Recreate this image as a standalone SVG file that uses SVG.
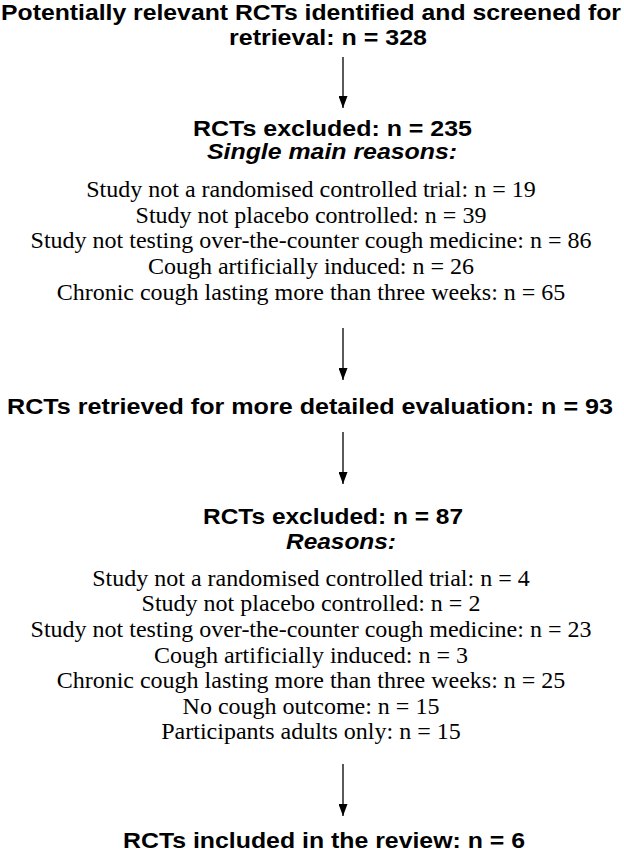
<svg xmlns="http://www.w3.org/2000/svg" width="624" height="852" viewBox="0 0 624 852">
<style>
.h{font-family:"Liberation Sans",Arial,sans-serif;font-weight:bold;font-size:22px;fill:#000;text-anchor:middle}
.i{font-family:"Liberation Sans",Arial,sans-serif;font-weight:bold;font-style:italic;font-size:22px;fill:#000;text-anchor:middle}
.s{font-family:"Liberation Serif","Times New Roman",serif;font-size:24px;fill:#000;text-anchor:middle}
.c{stroke:#000;stroke-width:1.3;fill:none}
</style>
<defs>
<marker id="ah" viewBox="0 0 10 10" refX="10" refY="5" markerWidth="12" markerHeight="9" markerUnits="userSpaceOnUse" orient="auto" preserveAspectRatio="none">
<path d="M0,0 L10,5 L0,10 Z" fill="#000"/>
</marker>
</defs>
<rect width="624" height="852" fill="#fff"/>
<g id="connectors">
<line class="c" x1="343" y1="57" x2="343" y2="108" marker-end="url(#ah)"/>
<line class="c" x1="343" y1="328" x2="343" y2="380" marker-end="url(#ah)"/>
<line class="c" x1="343" y1="432" x2="343" y2="484" marker-end="url(#ah)"/>
<line class="c" x1="343" y1="764" x2="343" y2="816" marker-end="url(#ah)"/>
</g>
<g id="n1">
<text class="h" x="311" y="20" textLength="620" lengthAdjust="spacingAndGlyphs">Potentially relevant RCTs identified and screened for</text>
<text class="h" x="328" y="45" textLength="198" lengthAdjust="spacingAndGlyphs">retrieval: n = 328</text>
</g>
<g id="n2">
<text class="h" x="332.5" y="136" textLength="279" lengthAdjust="spacingAndGlyphs">RCTs excluded: n = 235</text>
<text class="i" x="332" y="159" textLength="250" lengthAdjust="spacingAndGlyphs">Single main reasons:</text>
<text class="s" x="311" y="197">Study not a randomised controlled trial: n = 19</text>
<text class="s" x="311" y="223">Study not placebo controlled: n = 39</text>
<text class="s" x="311" y="248">Study not testing over-the-counter cough medicine: n = 86</text>
<text class="s" x="311" y="274">Cough artificially induced: n = 26</text>
<text class="s" x="311" y="300">Chronic cough lasting more than three weeks: n = 65</text>
</g>
<g id="n3">
<text class="h" x="310" y="414" textLength="606" lengthAdjust="spacingAndGlyphs">RCTs retrieved for more detailed evaluation: n = 93</text>
</g>
<g id="n4">
<text class="h" x="333" y="524" textLength="260" lengthAdjust="spacingAndGlyphs">RCTs excluded: n = 87</text>
<text class="i" x="341" y="549" textLength="110" lengthAdjust="spacingAndGlyphs">Reasons:</text>
<text class="s" x="311" y="586">Study not a randomised controlled trial: n = 4</text>
<text class="s" x="311" y="611">Study not placebo controlled: n = 2</text>
<text class="s" x="311" y="637">Study not testing over-the-counter cough medicine: n = 23</text>
<text class="s" x="311" y="663">Cough artificially induced: n = 3</text>
<text class="s" x="311" y="688">Chronic cough lasting more than three weeks: n = 25</text>
<text class="s" x="311" y="714">No cough outcome: n = 15</text>
<text class="s" x="311" y="739">Participants adults only: n = 15</text>
</g>
<g id="n5">
<text class="h" x="324" y="848" textLength="402" lengthAdjust="spacingAndGlyphs">RCTs included in the review: n = 6</text>
</g>
</svg>
